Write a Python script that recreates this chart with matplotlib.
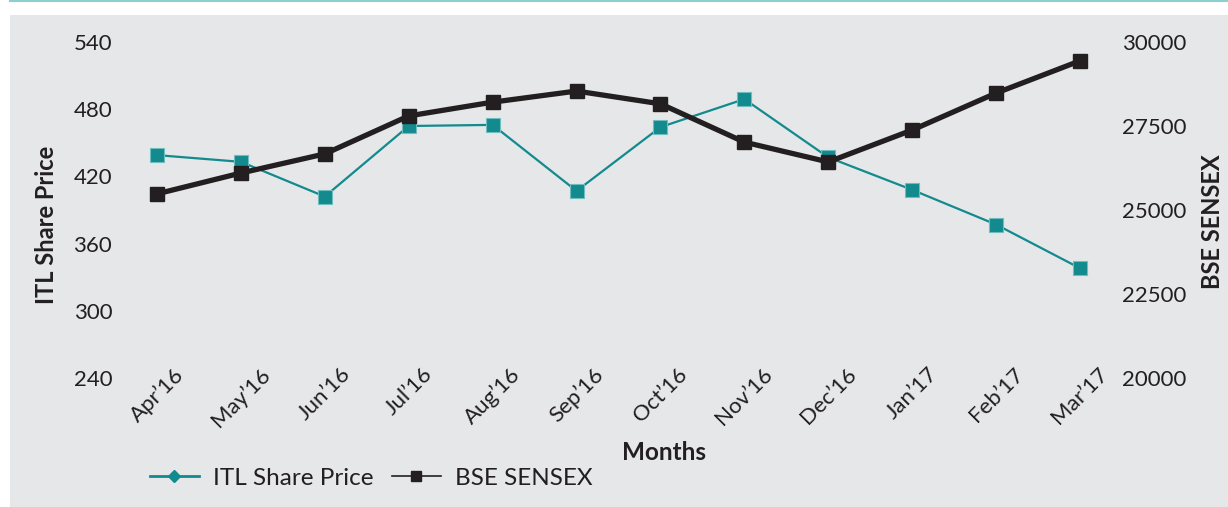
import matplotlib.pyplot as plt
from matplotlib.lines import Line2D
from matplotlib.patches import Rectangle

plt.rcParams['font.family'] = ['Lato', 'DejaVu Sans']

# ------------------- data -------------------
months = ["Apr’16", "May’16", "Jun’16", "Jul’16", "Aug’16", "Sep’16",
          "Oct’16", "Nov’16", "Dec’16", "Jan’17", "Feb’17", "Mar’17"]
itl_price = [439, 433, 402, 465, 466, 407, 464, 489, 437, 408, 377, 338]
bse_sensex = [25480, 26100, 26670, 27800, 28210, 28540,
              28160, 27020, 26430, 27380, 28480, 29440]

left_ticks = [240, 300, 360, 420, 480, 540]
right_ticks = [20000, 22500, 25000, 27500, 30000]

teal = '#128A8E'
black = '#231F20'
grey_bg = '#E6E7E8'
txt = '#231F20'

W, H = 1228, 507
fig = plt.figure(figsize=(W / 100, H / 100), dpi=100)
fig.patch.set_facecolor('white')

# grey panel + thin teal rule on top
fig.add_artist(Rectangle((10 / W, 0), 1, 1 - 15 / H, transform=fig.transFigure,
                         facecolor=grey_bg, edgecolor='none', zorder=-5))
fig.add_artist(Line2D([10 / W, 1], [1 - 1 / H, 1 - 1 / H], transform=fig.transFigure,
                      color='#8CCFD0', lw=1.5, zorder=-5))

ax_l, ax_r, ax_t, ax_b = 115, 1122, 42, 378
ax = fig.add_axes([ax_l / W, 1 - ax_b / H, (ax_r - ax_l) / W, (ax_b - ax_t) / H])
ax.patch.set_alpha(0)
x = list(range(len(months)))

ax.plot(x, itl_price, color=teal, lw=1.6, marker='s', markersize=10.5,
        markerfacecolor=teal, markeredgecolor='#6FBDBE', markeredgewidth=0.8)
ax.set_ylim(240, 540)
ax.set_yticks(left_ticks)
ax.set_xlim(-0.5, len(months) - 0.5)
ax.set_xticks(x)
ax.set_xticklabels(months, rotation=45, ha='center', va='top')

ax2 = ax.twinx()
ax2.patch.set_alpha(0)
ax2.plot(x, bse_sensex, color=black, lw=3.8, marker='s', markersize=10.5,
         markerfacecolor=black, markeredgecolor=black)
ax2.set_ylim(20000, 30000)
ax2.set_yticks(right_ticks)

for a in (ax, ax2):
    for s in a.spines.values():
        s.set_visible(False)
    a.tick_params(length=0, labelsize=16, labelcolor=txt)
ax.tick_params(axis='y', pad=2)
ax.tick_params(axis='x', pad=-10)
ax2.tick_params(axis='y', pad=0)

fig.text(47 / W, 1 - 225 / H, "ITL Share Price", rotation=90, ha='center', va='center',
         fontsize=17, fontweight='bold', color=txt)
fig.text(1213 / W, 1 - 222 / H, "BSE SENSEX", rotation=90, ha='center', va='center',
         fontsize=17, fontweight='bold', color=txt)
fig.text(664 / W, 1 - 452 / H, "Months", ha='center', va='center',
         fontsize=17.5, fontweight='bold', color=txt)

handles = [Line2D([], [], color=teal, lw=2, marker='D', markersize=6),
           Line2D([], [], color=black, lw=1.2, marker='s', markersize=7)]
fig.legend(handles, ["ITL Share Price", "BSE SENSEX"], loc='center left',
           bbox_to_anchor=(150 / W, 1 - 478 / H), ncol=2, frameon=False,
           fontsize=17.5, handlelength=2.0, handletextpad=0.6, columnspacing=0.75,
           borderpad=0, borderaxespad=0, labelcolor=txt)

fig.savefig('out.png', dpi=100, facecolor='white')
